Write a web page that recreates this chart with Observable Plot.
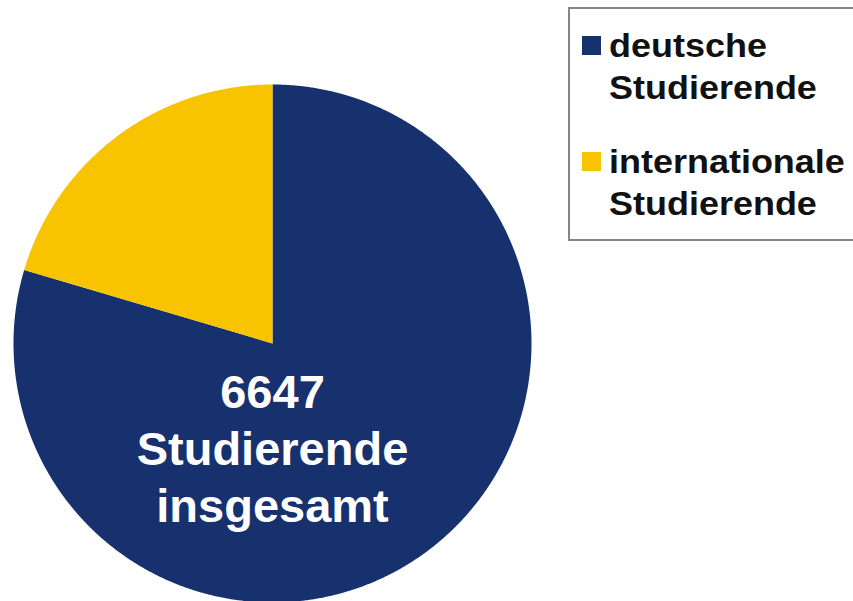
<!DOCTYPE html>
<html>
<head>
<meta charset="utf-8">
<script src="https://cdn.jsdelivr.net/npm/d3@7"></script>
<script src="https://cdn.jsdelivr.net/npm/@observablehq/plot@0.6"></script>
<style>
  html, body { margin: 0; padding: 0; background: #fff; }
  #wrap { position: relative; width: 853px; height: 601px; overflow: hidden; }
  #legend {
    position: absolute; left: 568px; top: 7px; width: 320px; height: 234px;
    border: 2px solid #868686; box-sizing: border-box; background: #fff;
    font-family: "Liberation Sans", Arial, sans-serif; font-weight: bold;
    font-size: 33px; line-height: 42px; color: #111;
  }
  .item { position: absolute; left: 39px; white-space: nowrap; }
  .txt { display: inline-block; transform: scaleX(1.09); transform-origin: 0 0; }
  .sw { position: absolute; left: -27px; top: 11px; width: 19px; height: 19px; }
</style>
</head>
<body>
<div id="wrap"><div id="legend"></div></div>
<script>
const categories = ["deutsche Studierende", "internationale Studierende"];
const values = [5290, 1357];
const colors = ["#17316f", "#f8c300"];
const legendLines = [["deutsche", "Studierende"], ["internationale", "Studierende"]];
const centerLabel = ["Studierende", "insgesamt"];

const total = d3.sum(values);
const arcs = d3.pie().sort(null).value(d => d)(values);
const points = [];
arcs.forEach((a, i) => {
  const cat = categories[i];
  points.push({cat, x: 0, y: 0});
  const n = Math.max(2, Math.ceil((a.endAngle - a.startAngle) / 0.005));
  for (let k = 0; k <= n; k++) {
    const t = a.startAngle + (a.endAngle - a.startAngle) * k / n;
    points.push({cat, x: Math.sin(t), y: Math.cos(t)});
  }
  points.push({cat, x: 0, y: 0});
});

const cx = 272, cy = 343, r = 259;
const chart = Plot.plot({
  width: 853,
  height: 601,
  margin: 0,
  style: {background: "#fff", fontFamily: "Liberation Sans, Arial, sans-serif"},
  x: {domain: [-1, 1], range: [cx - r, cx + r], axis: null},
  y: {domain: [-1, 1], range: [cy + r, cy - r], axis: null},
  color: {domain: categories, range: colors},
  marks: [
    Plot.line(points, {x: "x", y: "y", z: "cat", fill: "cat", stroke: "none", curve: "linear"}),
    Plot.text([[String(total), ...centerLabel].join("\n")], {
      x: 0, y: -0.398, text: d => d, fill: "#fff", fontSize: 47, fontWeight: "bold",
      lineHeight: 1.21, textAnchor: "middle", lineAnchor: "middle"
    })
  ]
});
document.getElementById("wrap").prepend(chart);
chart.style.position = "absolute";
chart.style.left = "0";
chart.style.top = "0";

const legend = document.getElementById("legend");
const tops = [16, 132];
legendLines.forEach((lines, i) => {
  const it = document.createElement("div");
  it.className = "item";
  it.style.top = tops[i] + "px";
  const sw = document.createElement("div");
  sw.className = "sw";
  sw.style.background = colors[i];
  it.appendChild(sw);
  const txt = document.createElement("span");
  txt.className = "txt";
  txt.appendChild(document.createTextNode(lines[0]));
  txt.appendChild(document.createElement("br"));
  txt.appendChild(document.createTextNode(lines[1]));
  it.appendChild(txt);
  legend.appendChild(it);
});
</script>
</body>
</html>
